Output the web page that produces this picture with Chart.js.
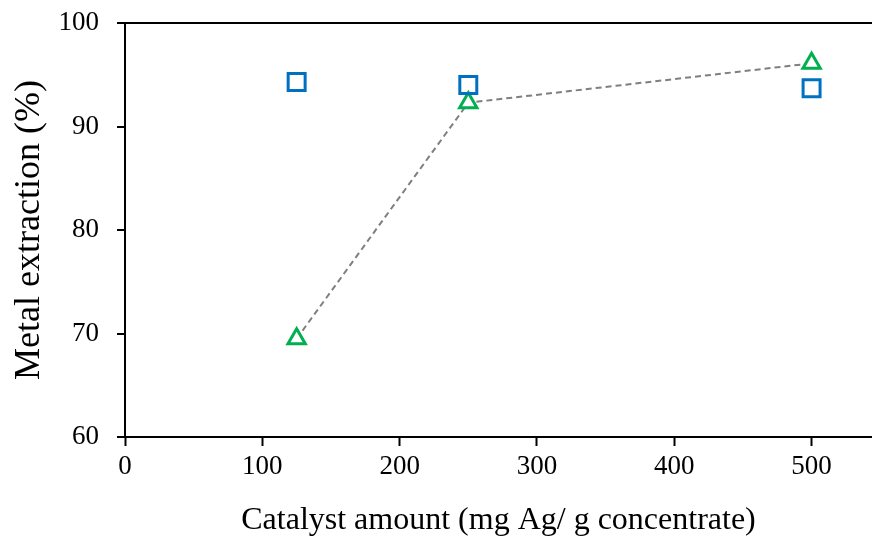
<!DOCTYPE html>
<html>
<head>
<meta charset="utf-8">
<script src="https://cdn.jsdelivr.net/npm/chart.js@4/dist/chart.umd.min.js"></script>
<style>
  html, body { margin: 0; padding: 0; background: #fff; }
  #wrap { width: 872px; height: 536px; }
</style>
</head>
<body>
<div id="wrap"><canvas id="c" width="872" height="536"></canvas></div>
<script>
const catalystAmount = [125, 250, 500];
const seriesSquare = [94.3, 94.0, 93.7];
const seriesTriangle = [69.5, 92.3, 96.1];
const xTicks = [0, 100, 200, 300, 400, 500];
const yTicks = [60, 70, 80, 90, 100];

const toPoints = (xs, ys) => xs.map((x, i) => ({ x: x, y: ys[i] }));
const fam = "'Liberation Serif', 'Times New Roman', serif";
const tickFont = { family: fam, size: 27 };

new Chart(document.getElementById('c'), {
  type: 'scatter',
  data: {
    datasets: [
      {
        label: 'Triangle',
        data: toPoints(catalystAmount, seriesTriangle),
        showLine: true,
        borderColor: '#7f7f7f',
        borderWidth: 2,
        borderDash: [6, 4],
        pointStyle: 'triangle',
        pointRadius: 10,
        pointBorderWidth: 3,
        pointBorderColor: '#00b050',
        pointBackgroundColor: '#ffffff',
        order: 2
      },
      {
        label: 'Square',
        data: toPoints(catalystAmount, seriesSquare),
        showLine: false,
        pointStyle: 'rect',
        pointRadius: 12,
        pointBorderWidth: 3,
        pointBorderColor: '#0070c0',
        pointBackgroundColor: 'rgba(255,255,255,0)',
        order: 1
      }
    ]
  },
  options: {
    responsive: false,
    animation: false,
    layout: { autoPadding: false, padding: { top: 23, right: 0, left: 0, bottom: 0 } },
    plugins: { legend: { display: false }, tooltip: { enabled: false } },
    scales: {
      x: {
        type: 'linear',
        min: 0,
        max: 544,
        afterBuildTicks: s => { s.ticks = xTicks.map(v => ({ value: v })); },
        afterFit: s => { s.height = 99; s.paddingRight = 0; s.paddingLeft = 0; },
        border: { display: true, color: '#000', width: 2 },
        grid: { drawOnChartArea: false, tickLength: 9, tickColor: '#000', tickWidth: 2 },
        ticks: { color: '#000', font: tickFont, padding: 5, maxRotation: 0 },
        title: { display: true, text: 'Catalyst amount (mg Ag/ g concentrate)', color: '#000', font: { family: fam, size: 32 }, padding: { top: 0, bottom: -4 } }
      },
      y: {
        min: 60,
        max: 100,
        afterBuildTicks: s => { s.ticks = yTicks.map(v => ({ value: v })); },
        afterFit: s => { s.width = 125; s.paddingTop = 0; s.paddingBottom = 0; },
        border: { display: true, color: '#000', width: 2 },
        grid: {
          drawOnChartArea: true,
          color: c => (c.tick && c.tick.value === 100) ? '#000' : 'rgba(0,0,0,0)',
          lineWidth: 2,
          tickLength: 8,
          tickColor: '#000',
          tickWidth: 2
        },
        ticks: { color: '#000', font: tickFont, padding: 18 },
        title: { display: true, text: 'Metal extraction (%)', color: '#000', font: { family: fam, size: 36 }, padding: { top: 8, bottom: 0 } }
      }
    }
  }
});
</script>
</body>
</html>
